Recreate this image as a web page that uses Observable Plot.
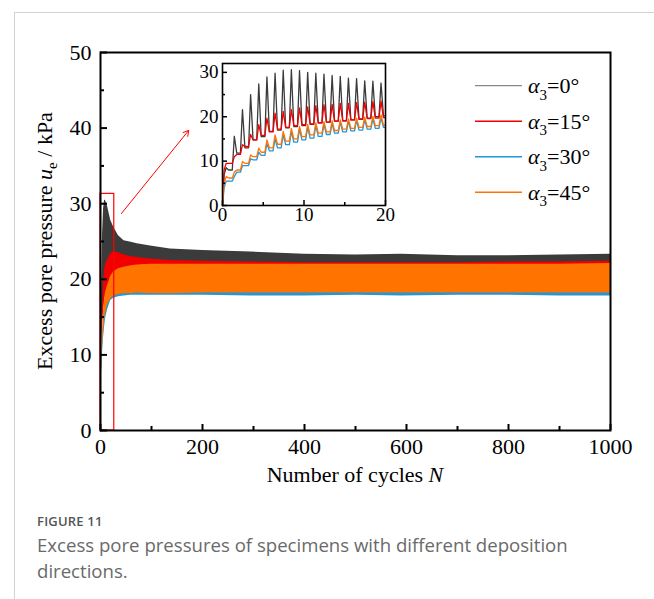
<!DOCTYPE html>
<html><head><meta charset="utf-8">
<script src="https://cdn.jsdelivr.net/npm/d3@7"></script>
<script src="https://cdn.jsdelivr.net/npm/@observablehq/plot@0.6"></script>
<style>
html,body{margin:0;padding:0;background:#fff;}
#wrap{position:relative;width:654px;height:599px;overflow:hidden;background:#fff;}
#card{position:absolute;left:14px;top:12px;width:660px;height:600px;border-left:1px solid #d2d2d2;border-top:1px solid #d2d2d2;}
#main{position:absolute;left:0;top:0;}
#inset{position:absolute;left:190px;top:55px;}
#legend{position:absolute;left:0;top:0;}
#caption{position:absolute;left:37px;top:512px;width:560px;font-family:"Open Sans",sans-serif;color:#666;}
#caption .fig{font-size:13px;font-weight:600;color:#555;letter-spacing:0.2px;margin-bottom:2px;}
#caption .txt{font-size:18.6px;line-height:26px;color:#6a6a6a;}
</style></head>
<body>
<div id="wrap">
  <div id="card"></div>
  <div id="main"></div>
  <div id="inset"></div>
  <div id="legend"></div>
  <div id="caption">
    <div class="fig">FIGURE 11</div>
    <div class="txt">Excess pore pressures of specimens with different deposition directions.</div>
  </div>
</div>
<script>
// ---------- Data ----------
const seriesNames = ["α3=0°", "α3=15°", "α3=30°", "α3=45°"];
const seriesColors = ["#3b3b3b", "#f20000", "#2196d8", "#ff7300"];

// main chart: envelope (upper / lower) of the oscillating pore pressure
const mainN    = [0, 1, 2, 4, 6, 8, 10, 14, 20, 26, 35, 46, 60, 72, 98, 137, 200, 295, 400, 500, 590, 700, 800, 900, 1000];
const blackHi  = [0, 12, 18, 26, 29.3, 30.5, 30.4, 29.6, 27.8, 26.9, 25.8, 25.1, 24.9, 24.7, 24.4, 24.0, 23.8, 23.6, 23.3, 23.2, 23.3, 23.1, 23.1, 23.2, 23.3];
const blackLo  = [0, 8, 11.5, 14.5, 16.5, 17.5, 18, 19, 20, 20.5, 20.7, 20.8, 21, 21, 21, 21, 21, 21, 21, 21, 21, 21, 21, 21, 21];
const redHi    = [0, 9.5, 12, 16, 19.7, 21.2, 22, 22.6, 23.4, 23.6, 23.5, 23.2, 23.0, 22.9, 22.7, 22.5, 22.4, 22.3, 22.2, 22.2, 22.2, 22.2, 22.3, 22.3, 22.4];
const redLo    = [0, 8, 11, 14, 15.8, 17, 18, 18.8, 19.7, 20, 20, 20, 20, 20, 20, 20, 20, 20, 20, 20, 20, 20, 20, 20, 20];
const blueHi   = [0, 6, 9, 12, 15, 16.7, 17.6, 18.6, 19.8, 20.6, 21.1, 21.4, 21.6, 21.7, 21.8, 21.8, 21.8, 21.8, 21.8, 21.8, 21.8, 21.8, 21.8, 21.8, 21.9];
const blueLo   = [0, 4, 7.5, 10.3, 12.3, 13.7, 14.8, 16.0, 17.2, 17.5, 17.7, 17.8, 17.9, 17.9, 17.9, 17.9, 17.9, 17.8, 17.8, 17.9, 17.8, 17.9, 17.9, 17.8, 17.8];
const orangeHi = [0, 7, 9.9, 12.9, 15.9, 17.4, 18.3, 19.2, 20.4, 21.0, 21.4, 21.6, 21.8, 21.9, 22.0, 22.0, 22.0, 22.0, 22.0, 22.0, 22.0, 22.0, 22.0, 22.0, 22.1];
const orangeLo = [0, 5, 8, 11, 13, 14.5, 15.5, 16.6, 17.4, 17.8, 18.0, 18.1, 18.1, 18.2, 18.1, 18.1, 18.2, 18.2, 18.2, 18.2, 18.2, 18.2, 18.2, 18.2, 18.2];

// inset (first 20 cycles): peak of each cycle and trough levels
const insetPeakBlack  = [8.5, 15.6, 21.6, 25, 27.4, 29, 29.8, 30.5, 30.6, 30.4, 30, 29.8, 29.6, 29.3, 29.1, 28.7, 28.6, 28.1, 28, 27.6];
const insetTroughBlack= [7, 8, 11.8, 13, 14.8, 15.5, 16.7, 17, 17.5, 17.8, 18, 18.3, 18.6, 18.8, 19, 19.1, 19.3, 19.5, 19.7, 20, 20.2];
const insetPeakRed    = [9.5, 11, 13.7, 16, 18.2, 19.7, 20.8, 21.2, 21.6, 22, 22.2, 22.5, 22.7, 22.8, 23, 23, 23.2, 23.3, 23.4, 23.5];
const insetTroughRed  = [8, 9.5, 11.5, 13.3, 14.8, 15.8, 16.6, 17.2, 17.6, 18, 18.2, 18.4, 18.6, 18.8, 19, 19.1, 19.3, 19.4, 19.6, 19.7, 19.8];
const insetPeakBlue   = [5.5, 6.5, 9, 10.5, 12, 14, 15, 16, 16.7, 17.2, 17.6, 18, 18.3, 18.5, 18.8, 19, 19.2, 19.4, 19.6, 19.8];
const insetTroughBlue = [4, 5.5, 7.5, 9, 10.3, 11.3, 12.3, 13, 13.7, 14.3, 14.8, 15.2, 15.6, 16, 16.3, 16.6, 16.8, 17, 17.2, 17.4, 17.6];
const insetPeakOrange = [6.5, 7.5, 9.9, 11.4, 12.9, 14.8, 15.9, 16.7, 17.4, 17.8, 18.3, 18.6, 18.9, 19.1, 19.3, 19.5, 19.7, 19.9, 20.1, 20.4];
const insetTroughOrange=[5, 6.2, 8, 9.5, 11, 12, 13, 13.8, 14.5, 15, 15.5, 15.9, 16.3, 16.6, 16.9, 17.2, 17.4, 17.6, 17.8, 18, 18.1];

// ticks
const xMajor = [0, 200, 400, 600, 800, 1000];
const xMinor = [100, 300, 500, 700, 900];
const yMajor = [0, 10, 20, 30, 40, 50];
const yMinor = [5, 15, 25, 35, 45];
const insetXMajor = [0, 10, 20];
const insetXMinor = [5, 15];
const insetYMajor = [0, 10, 20, 30];
const insetYMinor = [5, 15, 25];

// annotation: zoom box (cycles / kPa) and arrow
const zoomBox = [{x1: 0, x2: 27, y1: 0, y2: 31.3}];
const zoomArrow = [{x1: 41, y1: 28.7, x2: 173, y2: 39.7}];

// ---------- Build tables ----------
const bands = [
  {hi: blackHi, lo: blackLo, color: seriesColors[0]},
  {hi: redHi, lo: redLo, color: seriesColors[1]},
  {hi: blueHi, lo: blueLo, color: seriesColors[2]},
  {hi: orangeHi, lo: orangeLo, color: seriesColors[3]}
].map(s => ({color: s.color, rows: mainN.map((n, i) => ({N: n, lo: s.lo[i], hi: s.hi[i]}))}));

function cycles(peaks, troughs) {
  const pts = [{N: 0, u: 0}];
  peaks.forEach((p, n) => {
    pts.push({N: n + 0.2, u: troughs[n]});
    pts.push({N: n + 0.45, u: p});
    pts.push({N: n + 0.75, u: troughs[n + 1]});
  });
  pts.push({N: 20, u: troughs[troughs.length - 1]});
  return pts;
}
const insetSeries = [
  {pts: cycles(insetPeakBlack, insetTroughBlack), color: seriesColors[0]},
  {pts: cycles(insetPeakRed, insetTroughRed), color: seriesColors[1]},
  {pts: cycles(insetPeakBlue, insetTroughBlue), color: seriesColors[2]},
  {pts: cycles(insetPeakOrange, insetTroughOrange), color: seriesColors[3]}
];

// ---------- Main chart ----------
const W = 654, H = 490, mL = 100, mR = 44, mT = 52, mB = 60;
const innerW = W - mL - mR, innerH = H - mT - mB;
const serif = "'Liberation Serif', 'Times New Roman', serif";
const fmt = d3.format("d");

const main = Plot.plot({
  width: W, height: H,
  marginLeft: mL, marginRight: mR, marginTop: mT, marginBottom: mB,
  style: {fontFamily: serif, fontSize: "22px", color: "#000", background: "transparent", overflow: "visible"},
  x: {domain: [0, 1000]},
  y: {domain: [0, 50]},
  marks: [
    ...bands.map(b => Plot.areaY(b.rows, {x: "N", y1: "lo", y2: "hi", fill: b.color})),
    Plot.rect(zoomBox, {x1: "x1", x2: "x2", y1: "y1", y2: "y2", fill: "none", stroke: "#ff0000", strokeWidth: 1.2}),
    Plot.arrow(zoomArrow, {x1: "x1", y1: "y1", x2: "x2", y2: "y2", stroke: "#ff0000", strokeWidth: 1, headLength: 9, bend: false}),
    Plot.tickX(xMajor, {x: d => d, insetTop: innerH - 6, stroke: "#000", strokeWidth: 2}),
    Plot.tickX(xMinor, {x: d => d, insetTop: innerH - 4, stroke: "#000", strokeWidth: 2}),
    Plot.tickY(yMajor, {y: d => d, insetRight: innerW - 7, stroke: "#000", strokeWidth: 2}),
    Plot.tickY(yMinor, {y: d => d, insetRight: innerW - 4, stroke: "#000", strokeWidth: 2}),
    Plot.axisX({ticks: xMajor, tickFormat: fmt, tickSize: 0, tickPadding: 8, label: null, fontSize: 22}),
    Plot.axisY({ticks: yMajor, tickFormat: fmt, tickSize: 0, tickPadding: 9, label: null, fontSize: 22}),
    Plot.frame({stroke: "#000", strokeWidth: 2})
  ]
});
document.getElementById("main").appendChild(main);

const msvg = d3.select(main);
// y axis label
const yl = msvg.append("text")
  .attr("transform", `translate(52,${mT + innerH / 2}) rotate(-90)`)
  .attr("text-anchor", "middle")
  .attr("font-family", serif).attr("font-size", 22).attr("fill", "#000");
yl.append("tspan").text("Excess pore pressure ");
yl.append("tspan").attr("font-style", "italic").text("u");
yl.append("tspan").attr("font-size", 15).attr("dy", 5).text("e");
yl.append("tspan").attr("dy", -5).text(" / kPa");
// x axis label
const xl = msvg.append("text")
  .attr("x", mL + innerW / 2).attr("y", 482)
  .attr("text-anchor", "middle")
  .attr("font-family", serif).attr("font-size", 22).attr("fill", "#000");
xl.append("tspan").text("Number of cycles ");
xl.append("tspan").attr("font-style", "italic").text("N");

// ---------- Inset ----------
const iW = 205, iH = 175, imL = 32, imR = 10, imT = 8, imB = 25;
const iInnerW = iW - imL - imR, iInnerH = iH - imT - imB;
const inset = Plot.plot({
  width: iW, height: iH,
  marginLeft: imL, marginRight: imR, marginTop: imT, marginBottom: imB,
  style: {fontFamily: serif, fontSize: "19px", color: "#000", background: "transparent", overflow: "visible"},
  x: {domain: [0, 20]},
  y: {domain: [0, 32]},
  marks: [
    Plot.frame({fill: "#fff", stroke: "none"}),
    ...insetSeries.map(s => Plot.line(s.pts, {x: "N", y: "u", stroke: s.color, strokeWidth: 1.3})),
    Plot.tickX(insetXMajor, {x: d => d, insetTop: iInnerH - 5, stroke: "#000", strokeWidth: 1.5}),
    Plot.tickX(insetXMinor, {x: d => d, insetTop: iInnerH - 3, stroke: "#000", strokeWidth: 1.5}),
    Plot.tickY(insetYMajor, {y: d => d, insetRight: iInnerW - 5, stroke: "#000", strokeWidth: 1.5}),
    Plot.tickY(insetYMinor, {y: d => d, insetRight: iInnerW - 3, stroke: "#000", strokeWidth: 1.5}),
    Plot.axisX({ticks: insetXMajor, tickFormat: fmt, tickSize: 0, tickPadding: 2, label: null, fontSize: 19}),
    Plot.axisY({ticks: insetYMajor, tickFormat: fmt, tickSize: 0, tickPadding: 4, label: null, fontSize: 19}),
    Plot.frame({stroke: "#000", strokeWidth: 1.6})
  ]
});
document.getElementById("inset").appendChild(inset);

// ---------- Legend ----------
const leg = d3.select("#legend").append("svg").attr("width", 654).attr("height", 240)
  .style("overflow", "visible");
const legY0 = 85.7, legDY = 35.5;
seriesNames.forEach((name, i) => {
  const y = legY0 + i * legDY;
  leg.append("line").attr("x1", 475).attr("x2", 522).attr("y1", y).attr("y2", y)
    .attr("stroke", seriesColors[i]).attr("stroke-width", i === 0 ? 1 : 1.4)
    .attr("opacity", i === 0 ? 0.75 : 1);
  const t = leg.append("text").attr("x", 528).attr("y", y + 7.6)
    .attr("font-family", serif).attr("font-size", 22).attr("fill", "#000");
  const m = name.match(/^α(\d)(.*)$/);
  t.append("tspan").attr("font-style", "italic").text("α");
  t.append("tspan").attr("font-size", 15).attr("dy", 6.5).text(m[1]);
  t.append("tspan").attr("dy", -6.5).text(m[2]);
});
</script>
</body></html>
